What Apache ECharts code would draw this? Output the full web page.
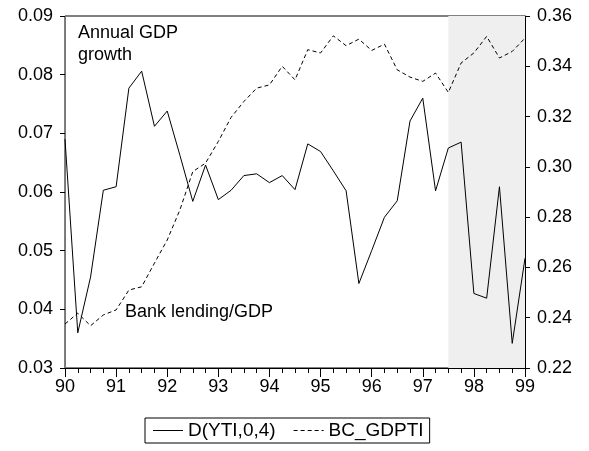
<!DOCTYPE html>
<html>
<head>
<meta charset="utf-8">
<script src="https://cdn.jsdelivr.net/npm/echarts@6/dist/echarts.min.js"></script>
<style>
  html, body { margin: 0; padding: 0; background: #fff; }
  #chart { width: 589px; height: 451px; }
</style>
</head>
<body>
<div id="chart"></div>
<script>
// quarterly observations, 1990Q1 .. 1999Q1
const quarters = [
  '1990Q1','1990Q2','1990Q3','1990Q4','1991Q1','1991Q2','1991Q3','1991Q4',
  '1992Q1','1992Q2','1992Q3','1992Q4','1993Q1','1993Q2','1993Q3','1993Q4',
  '1994Q1','1994Q2','1994Q3','1994Q4','1995Q1','1995Q2','1995Q3','1995Q4',
  '1996Q1','1996Q2','1996Q3','1996Q4','1997Q1','1997Q2','1997Q3','1997Q4',
  '1998Q1','1998Q2','1998Q3','1998Q4','1999Q1'
]

// D(YTI,0,4) - annual GDP growth (left axis)
const gdpGrowth = [
  0.0690, 0.0360, 0.0455, 0.0603, 0.0609, 0.0777, 0.0806, 0.0712,
  0.0738, 0.0662, 0.0584, 0.0646, 0.0587, 0.0603, 0.0628, 0.0631,
  0.0616, 0.0628, 0.0604, 0.0682, 0.0669, 0.0636, 0.0602, 0.0444,
  0.0500, 0.0557, 0.0585, 0.0721, 0.0760, 0.0602, 0.0675, 0.0685,
  0.0427, 0.0419, 0.0609, 0.0342, 0.0487
]

// BC_GDPTI - bank lending / GDP (right axis)
const bankLending = [
  0.2375, 0.2418, 0.2368, 0.2411, 0.2431, 0.2510, 0.2523, 0.2617,
  0.2709, 0.2830, 0.2981, 0.3015, 0.3101, 0.3197, 0.3260, 0.3313,
  0.3326, 0.3400, 0.3346, 0.3466, 0.3453, 0.3521, 0.3482, 0.3508,
  0.3463, 0.3488, 0.3386, 0.3357, 0.3340, 0.3373, 0.3296, 0.3413,
  0.3453, 0.3519, 0.3433, 0.3459, 0.3512
]

const seriesNames = ['D(YTI,0,4)', 'BC_GDPTI']
const shadeFrom = '1997Q3'
const shadeTo = '1999Q1'

// '1993Q2' -> 93.25
const toX = q => (+q.slice(0, 4)) % 100 + (+q.slice(5) - 1) / 4

const font = 'Arial, "Liberation Sans", sans-serif'
const plotTop = 16
const plotBottom = 83
const plotHeight = 451 - plotTop - plotBottom

// legend samples: a plain stroke and a dashed one
const solidIcon = 'path://M0,0h30v1h-30z'
const dashedIcon = 'path://M0,0h4v1h-4zM7,0h4v1h-4zM14,0h4v1h-4zM21,0h4v1h-4zM28,0h2v1h-2z'

const chart = echarts.init(document.getElementById('chart'))
chart.setOption({
  animation: false,
  backgroundColor: '#fff',
  textStyle: { fontFamily: font, color: '#000' },
  grid: {
    left: 65, right: 64, top: plotTop, bottom: plotBottom,
    show: true, borderColor: '#000', borderWidth: 1
  },
  legend: {
    data: [
      { name: seriesNames[0], icon: solidIcon },
      { name: seriesNames[1], icon: dashedIcon }
    ],
    left: 145, top: 418,
    padding: [3, 6, 3, 8],
    itemWidth: 30, itemHeight: 12, itemGap: 18,
    borderColor: '#000', borderWidth: 1, borderRadius: 0,
    itemStyle: { color: '#000', borderWidth: 0 },
    lineStyle: { width: 0 },
    textStyle: { fontFamily: font, fontSize: 19, color: '#000' }
  },
  graphic: [
    { type: 'text', left: 78, top: 22,
      style: { text: 'Annual GDP\ngrowth', font: '18px ' + font, fill: '#000', lineHeight: 22 } },
    { type: 'text', left: 125, top: 303,
      style: { text: 'Bank lending/GDP', font: '18px ' + font, fill: '#000' } }
  ],
  xAxis: [
    {
      // quarterly ticks, year labels only
      type: 'value', position: 'bottom',
      min: 90, max: 99, interval: 0.25,
      axisLine: { show: true, lineStyle: { color: '#000' } },
      axisTick: { show: true, length: 5, lineStyle: { color: '#000' } },
      splitLine: { show: false },
      axisLabel: {
        fontSize: 18, color: '#000', margin: 10,
        formatter: v => Number.isInteger(v) ? String(v) : ''
      }
    },
    {
      // same scale; longer year ticks, moved down onto the bottom edge
      type: 'value', position: 'top', offset: -plotHeight,
      min: 90, max: 99, interval: 1,
      axisLine: { show: false },
      axisTick: { show: true, inside: true, length: 9, lineStyle: { color: '#000' } },
      splitLine: { show: false },
      axisLabel: { show: false }
    }
  ],
  yAxis: [
    {
      type: 'value', position: 'left',
      min: 0.03, max: 0.09, interval: 0.01,
      axisLine: { show: true, lineStyle: { color: '#777' } },
      axisTick: { show: true, length: 5, lineStyle: { color: '#000' } },
      splitLine: { show: false },
      axisLabel: { fontSize: 18, color: '#000', margin: 12, formatter: v => v.toFixed(2) }
    },
    {
      type: 'value', position: 'right',
      min: 0.22, max: 0.36, interval: 0.02,
      axisLine: { show: true, lineStyle: { color: '#000' } },
      axisTick: { show: true, length: 5, lineStyle: { color: '#000' } },
      splitLine: { show: false },
      axisLabel: { fontSize: 18, color: '#000', margin: 12, formatter: v => v.toFixed(2) }
    }
  ],
  series: [
    {
      name: seriesNames[0],
      type: 'line',
      xAxisIndex: 0,
      yAxisIndex: 0,
      symbol: 'none',
      z: 3,
      lineStyle: { color: '#000', width: 1 },
      itemStyle: { color: '#000' },
      data: quarters.map((q, i) => [toX(q), gdpGrowth[i]]),
      markArea: {
        silent: true,
        itemStyle: { color: '#efefef' },
        data: [[{ xAxis: toX(shadeFrom) }, { xAxis: toX(shadeTo) }]]
      }
    },
    {
      name: seriesNames[1],
      type: 'line',
      xAxisIndex: 1,
      yAxisIndex: 1,
      symbol: 'none',
      z: 3,
      lineStyle: { color: '#000', width: 1, type: [4, 3] },
      itemStyle: { color: '#000' },
      data: quarters.map((q, i) => [toX(q), bankLending[i]])
    }
  ]
})
</script>
</body>
</html>
